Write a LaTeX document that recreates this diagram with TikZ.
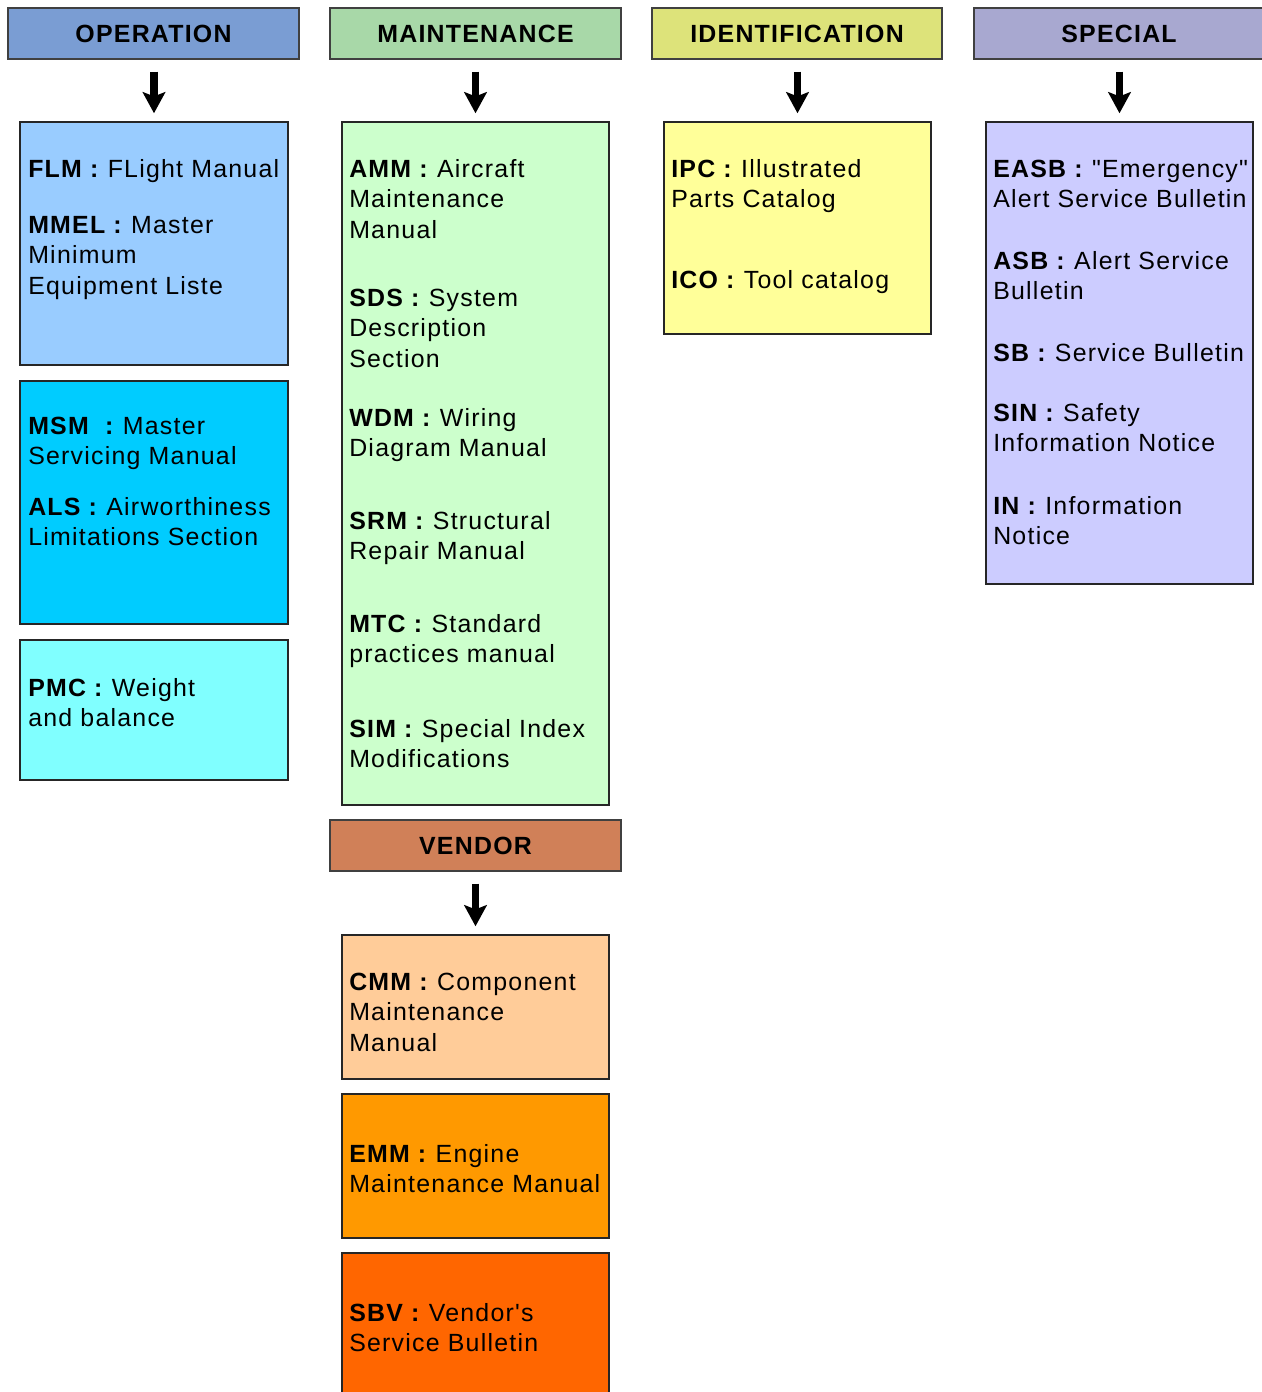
\documentclass[tikz,border=0pt]{standalone}
\usepackage{fontspec}
\newfontfamily\docfont{Liberation Sans}[LetterSpace=5]
\usetikzlibrary{arrows.meta,fit}

\definecolor{ophead}{HTML}{7A9DD3}
\definecolor{mainthead}{HTML}{A8D8A8}
\definecolor{idhead}{HTML}{DDE37A}
\definecolor{spechead}{HTML}{A8A8D0}
\definecolor{vendhead}{HTML}{D08058}
\definecolor{flmfill}{HTML}{99CCFF}
\definecolor{msmfill}{HTML}{00CCFF}
\definecolor{pmcfill}{HTML}{80FFFF}
\definecolor{ammfill}{HTML}{CCFFCC}
\definecolor{ipcfill}{HTML}{FFFF99}
\definecolor{easbfill}{HTML}{CCCCFF}
\definecolor{cmmfill}{HTML}{FFCC99}
\definecolor{emmfill}{HTML}{FF9900}
\definecolor{sbvfill}{HTML}{FF6600}

\tikzset{
    header/.style={draw=black!75, line width=1pt, inner sep=0pt,
        label={[font=\docfont\fontsize{17.7}{21.7}\selectfont\bfseries, inner sep=0pt]center:#1}},
    docbox/.style={draw=black!85, line width=1pt, inner sep=0pt},
    entry/.style={anchor=north west, inner sep=0pt, align=left,
        font=\docfont\fontsize{17.7}{21.7}\selectfont},
    downarrow/.style={line width=5pt, -{Stealth[width=16pt,length=15pt,inset=3pt]},
        shorten <=8.5pt, shorten >=5.7pt},
}

\begin{document}
\begin{tikzpicture}[x=0.025cm, y=-0.025cm]
    \useasboundingbox (0,0) rectangle (1261,1392);

    \node[header=OPERATION, fill=ophead, fit={(8,8) (299,59)}] (ophead) {};
    \node[header=MAINTENANCE, fill=mainthead, fit={(330,8) (621,59)}] (mainthead) {};
    \node[header=IDENTIFICATION, fill=idhead, fit={(652,8) (942,59)}] (idhead) {};
    \node[header=SPECIAL, fill=spechead, fit={(974,8) (1264,59)}] (spechead) {};
    \node[header=VENDOR, fill=vendhead, fit={(330,820) (621,871)}] (vendhead) {};

    \node[docbox, fill=flmfill, fit={(20,122) (288,365)}] (flmbox) {};
    \node[docbox, fill=msmfill, fit={(20,381) (288,624)}] (msmbox) {};
    \node[docbox, fill=pmcfill, fit={(20,640) (288,780)}] (pmcbox) {};
    \node[docbox, fill=ammfill, fit={(342,122) (609,805)}] (ammbox) {};
    \node[docbox, fill=ipcfill, fit={(664,122) (931,334)}] (ipcbox) {};
    \node[docbox, fill=easbfill, fit={(986,122) (1253,584)}] (easbbox) {};
    \node[docbox, fill=cmmfill, fit={(342,935) (609,1079)}] (cmmbox) {};
    \node[docbox, fill=emmfill, fit={(342,1094) (609,1238)}] (emmbox) {};
    \node[docbox, fill=sbvfill, fit={(342,1253) (609,1410)}] (sbvbox) {};

    \foreach \hd/\bx in {ophead/flmbox, mainthead/ammbox, idhead/ipcbox, spechead/easbbox, vendhead/cmmbox}
        \draw[downarrow] (\bx.north |- \hd.south) -- (\bx.north);

    \node[entry] (flmtxt) at (28,155.5) {\strut\textbf{FLM :} FLight Manual};
    \node[entry] (mmeltxt) at (28,211.5) {\strut\textbf{MMEL :} Master\\Minimum\\Equipment Liste};
    \node[entry] (msmtxt) at (28,412.5) {\strut\textbf{MSM\ \ :} Master\\Servicing Manual};
    \node[entry] (alstxt) at (28,493.5) {\strut\textbf{ALS :} Airworthiness\\Limitations Section};
    \node[entry] (pmctxt) at (28,674.5) {\strut\textbf{PMC :} Weight\\and balance};

    \node[entry] (ammtxt) at (349,155.5) {\strut\textbf{AMM :} Aircraft\\Maintenance\\Manual};
    \node[entry] (sdstxt) at (349,284.5) {\strut\textbf{SDS :} System\\Description\\Section};
    \node[entry] (wdmtxt) at (349,404.5) {\strut\textbf{WDM\ :} Wiring\\Diagram Manual};
    \node[entry] (srmtxt) at (349,507.5) {\strut\textbf{SRM :} Structural\\Repair Manual};
    \node[entry] (mtctxt) at (349,610.5) {\strut\textbf{MTC :} Standard\\practices manual};
    \node[entry] (simtxt) at (349,715.5) {\strut\textbf{SIM\ :} Special Index\\Modifications};
    \node[entry] (cmmtxt) at (349,968.5) {\strut\textbf{CMM :} Component\\Maintenance\\Manual};
    \node[entry] (emmtxt) at (349,1140.5) {\strut\textbf{EMM :} Engine\\Maintenance Manual};
    \node[entry] (sbvtxt) at (349,1299.5) {\strut\textbf{SBV :} Vendor's\\Service Bulletin};

    \node[entry] (ipctxt) at (671,155.5) {\strut\textbf{IPC\ :} Illustrated\\Parts Catalog};
    \node[entry] (icotxt) at (671,266.5) {\strut\textbf{ICO :} Tool catalog};

    \node[entry] (easbtxt) at (993,155.5) {\strut\textbf{EASB :} "Emergency"\\Alert Service Bulletin};
    \node[entry] (asbtxt) at (993,247.5) {\strut\textbf{ASB :} Alert Service\\Bulletin};
    \node[entry] (sbtxt) at (993,339.5) {\strut\textbf{SB :} Service Bulletin};
    \node[entry] (sintxt) at (993,399.5) {\strut\textbf{SIN :} Safety\\Information Notice};
    \node[entry] (intxt) at (993,492.5) {\strut\textbf{IN :} Information\\Notice};
\end{tikzpicture}
\end{document}
